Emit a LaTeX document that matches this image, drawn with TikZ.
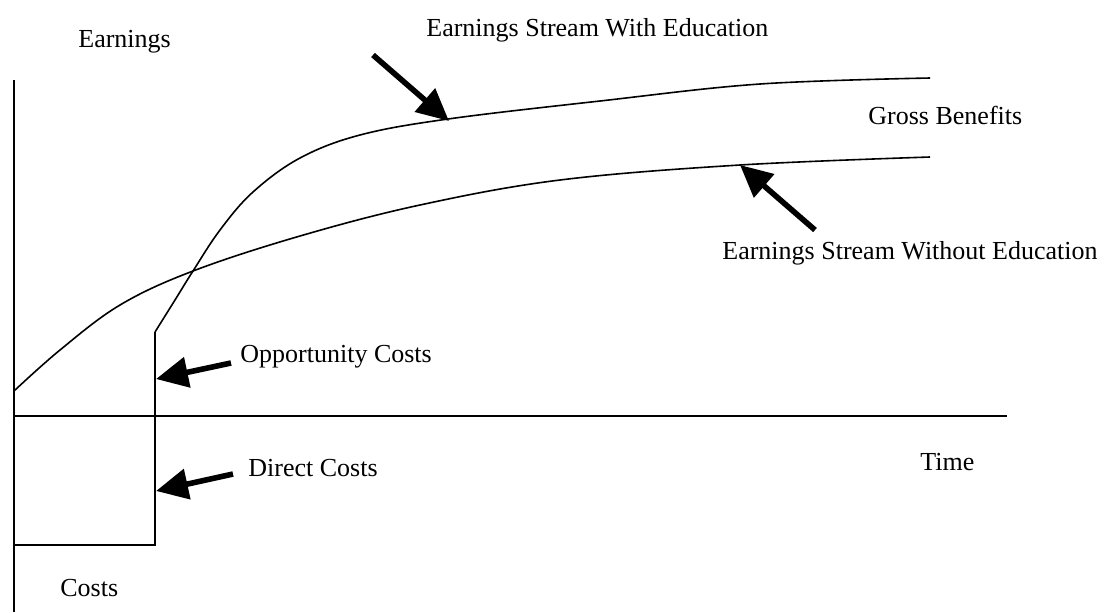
\documentclass[tikz,border=0pt]{standalone}
\usepackage{fontspec}
\setmainfont{Liberation Serif}
\usetikzlibrary{arrows.meta}
\begin{document}
\begin{tikzpicture}[x=0.5pt,y=-0.5pt,
  lbl/.style={anchor=west,inner sep=0pt,font=\fontsize{13}{15}\selectfont},
  axis/.style={line width=1pt},
  curve/.style={line width=0.8pt},
  bigarrow/.style={line width=2.8pt,-{Triangle[length=16pt,width=15pt]}}]
\useasboundingbox (0,0) rectangle (1107,612);
% axes
\coordinate (ytop) at (14,80);
\coordinate (ybot) at (14,612);
\coordinate (xl) at (14,416);
\coordinate (xr) at (1007,416);
\draw[axis] (ytop) -- (ybot);
\draw[axis] (xl) -- (xr);
% school period box
\coordinate (s0) at (155,332);
\coordinate (s1) at (155,545);
\coordinate (s2) at (14,545);
\draw[axis] (s0) -- (s1) -- (s2);
% earnings without education
\draw[curve] plot[smooth,tension=0.6] coordinates {(14,391) (60,350) (120,305) (193,271) (300,236) (420,205) (560,180) (740,165) (930,157)};
% earnings with education
\draw[curve] plot[smooth,tension=0.6] coordinates {(155,332) (175,300) (193,271) (220,230) (253,192) (300,158) (360,135) (448,119) (600,101) (760,84) (930,78)};
% arrow points
\coordinate (t1) at (373,55);  \coordinate (h1) at (449,121);
\coordinate (t2) at (815,230); \coordinate (h2) at (740,165);
\coordinate (t3) at (231,363); \coordinate (h3) at (156,379);
\coordinate (t4) at (233,474); \coordinate (h4) at (156,491);
\draw[bigarrow] (t1) -- (h1);
\draw[bigarrow] (t2) -- (h2);
\draw[bigarrow] (t3) -- (h3);
\draw[bigarrow] (t4) -- (h4);
% labels
\node[lbl] (lwith) at (426,30) {Earnings Stream With Education};
\node[lbl] (learn) at (78,42) {Earnings};
\node[lbl] (lgross) at (868,115) {Gross Benefits};
\node[lbl] (lwithout) at (722,253) {Earnings Stream Without Education};
\node[lbl] (lopp) at (240,357) {Opportunity Costs};
\node[lbl] (ltime) at (920,462) {Time};
\node[lbl] (ldirect) at (248,468) {Direct Costs};
\node[lbl] (lcosts) at (60,588) {Costs};
\end{tikzpicture}
\end{document}
